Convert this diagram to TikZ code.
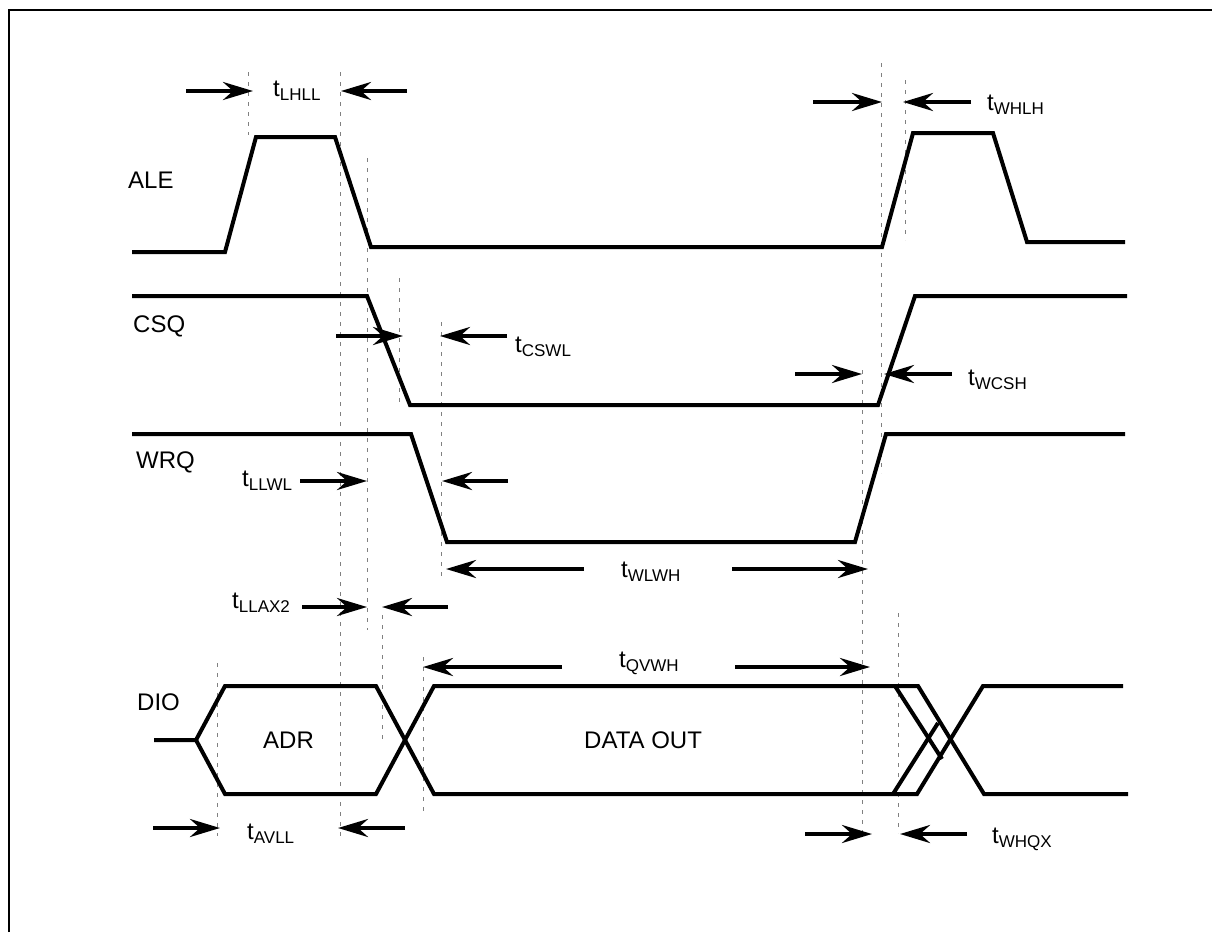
\documentclass[tikz,border=0pt]{standalone}
\usepackage{fontspec}
\setmainfont{Liberation Sans}
\usepackage{tikz}
\usetikzlibrary{arrows.meta}

\newcommand{\tsub}[1]{t\raisebox{-4pt}{\fontsize{17}{17}\selectfont #1}}

\begin{document}
\begin{tikzpicture}[
    x=1pt, y=-1pt,
    sig/.style={line width=4pt},
    tarr/.style={line width=4pt, -{Stealth[length=30pt, width=18pt, inset=10pt]}},
    guide/.style={gray, line width=0.8pt, dash pattern=on 4pt off 6pt},
    lbl/.style={anchor=base west, inner sep=0pt, font=\fontsize{24}{28}\selectfont}
]
\useasboundingbox (0,0) rectangle (1212,932);
\draw[line width=2pt] (9,932) -- (9,10) -- (1212,10);

% guide lines
\draw[guide] (248,72) -- (248,135);
\draw[guide] (340,72) -- (340,836);
\draw[guide] (367,158) -- (367,630);
\draw[guide] (399,278) -- (399,407);
\draw[guide] (441,322) -- (441,577);
\draw[guide] (382,615) -- (382,740);
\draw[guide] (217,663) -- (217,836);
\draw[guide] (423,657) -- (423,815);
\draw[guide] (881,63) -- (881,473);
\draw[guide] (905,80) -- (905,240);
\draw[guide] (862,370) -- (862,833);
\draw[guide] (898,613) -- (898,833);

% signals
\node[lbl] (ale) at (128,188) {ALE};
\draw[sig] (132,252) -- (225,252) -- (256,137) -- (335,137) -- (371,247)
    -- (882,247) -- (913,133) -- (993,133) -- (1027,242) -- (1125,242);

\node[lbl] (csq) at (133,332) {CSQ};
\draw[sig] (132,296) -- (367,296) -- (410,405) -- (878,405) -- (915,296) -- (1127,296);

\node[lbl] (wrq) at (136,468) {WRQ};
\draw[sig] (132,434) -- (411,434) -- (447,542) -- (855,542) -- (886,434) -- (1125,434);

\node[lbl] (dio) at (137,710) {DIO};
\draw[sig] (154,740) -- (196,740) -- (225,686) -- (376,686) -- (434,794)
    -- (917,794) -- (983,686) -- (1123,686);
\draw[sig] (196,740) -- (225,794) -- (376,794) -- (434,686)
    -- (918,686) -- (984,794) -- (1128,794);
\draw[sig] (895,686) -- (942,759);
\draw[sig] (893,794) -- (938,723);
\node[lbl] (adr) at (263,748) {ADR};
\node[lbl] (dout) at (584,748) {DATA OUT};

% timings
\draw[tarr] (186,91) -- (253,91);
\draw[tarr] (407,91) -- (341,91);
\node[lbl] (lhll) at (273,96) {\tsub{LHLL}};

\draw[tarr] (813,102) -- (882,102);
\draw[tarr] (971,102) -- (903,102);
\node[lbl] (whlh) at (987,110) {\tsub{WHLH}};

\draw[tarr] (336,336) -- (403,336);
\draw[tarr] (507,336) -- (440,336);
\node[lbl] (cswl) at (515,352) {\tsub{CSWL}};

\draw[tarr] (795,374) -- (862,374);
\draw[tarr] (952,374) -- (884,374);
\node[lbl] (wcsh) at (968,385) {\tsub{WCSH}};

\node[lbl] (llwl) at (242,486) {\tsub{LLWL}};
\draw[tarr] (300,481) -- (367,481);
\draw[tarr] (508,481) -- (442,481);

\draw[tarr] (584,569) -- (446,569);
\draw[tarr] (732,569) -- (868,569);
\node[lbl] (wlwh) at (621,577) {\tsub{WLWH}};

\node[lbl] (llax) at (232,608) {\tsub{LLAX2}};
\draw[tarr] (302,607) -- (367,607);
\draw[tarr] (448,607) -- (382,607);

\draw[tarr] (562,667) -- (423,667);
\draw[tarr] (735,667) -- (870,667);
\node[lbl] (qvwh) at (619,667) {\tsub{QVWH}};

\draw[tarr] (153,828) -- (220,828);
\draw[tarr] (405,828) -- (338,828);
\node[lbl] (avll) at (247,839) {\tsub{AVLL}};

\draw[tarr] (805,834) -- (872,834);
\draw[tarr] (967,834) -- (900,834);
\node[lbl] (whqx) at (992,843) {\tsub{WHQX}};
\end{tikzpicture}
\end{document}
